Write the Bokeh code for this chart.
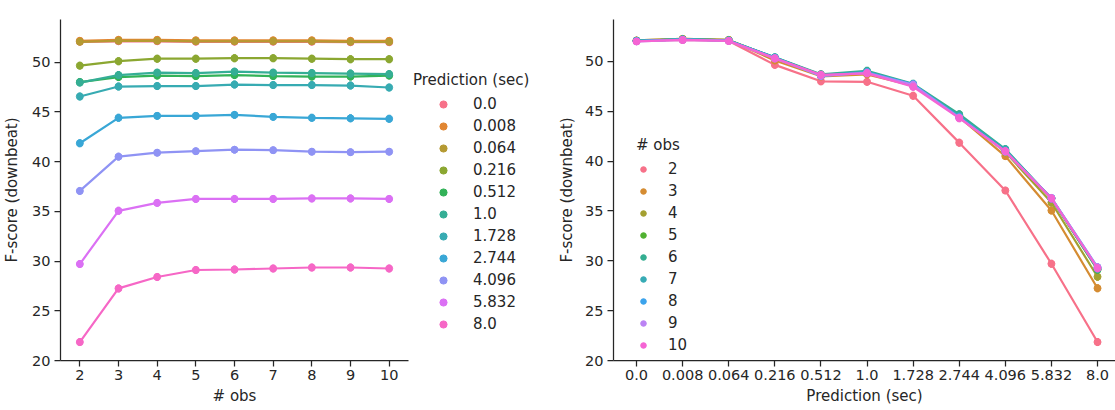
import math
from bokeh.plotting import figure
from bokeh.layouts import row
from bokeh.models import ColumnDataSource, FixedTicker, Legend, LegendItem
from bokeh.embed import file_html
from bokeh.resources import INLINE

# ---------------- data ----------------
pred_labels = ["0.0", "0.008", "0.064", "0.216", "0.512", "1.0",
               "1.728", "2.744", "4.096", "5.832", "8.0"]
obs_labels = ["2", "3", "4", "5", "6", "7", "8", "9", "10"]

# F-score (downbeat), one list per prediction horizon, over # obs 2..10
f_0_0   = [52.05, 52.10, 52.10, 52.05, 52.05, 52.05, 52.05, 52.00, 52.00]
f_0_008 = [52.15, 52.25, 52.25, 52.20, 52.20, 52.20, 52.20, 52.15, 52.15]
f_0_064 = [52.05, 52.15, 52.15, 52.10, 52.10, 52.10, 52.10, 52.05, 52.05]
f_0_216 = [49.65, 50.10, 50.35, 50.35, 50.40, 50.40, 50.35, 50.30, 50.30]
f_0_512 = [48.00, 48.50, 48.65, 48.60, 48.70, 48.60, 48.55, 48.55, 48.65]
f_1_0   = [47.95, 48.70, 48.95, 48.90, 49.05, 48.95, 48.90, 48.85, 48.80]
f_1_728 = [46.55, 47.55, 47.60, 47.60, 47.75, 47.70, 47.70, 47.65, 47.45]
f_2_744 = [41.85, 44.40, 44.60, 44.60, 44.70, 44.50, 44.40, 44.35, 44.30]
f_4_096 = [37.05, 40.50, 40.90, 41.05, 41.20, 41.15, 41.00, 40.95, 41.00]
f_5_832 = [29.70, 35.05, 35.85, 36.25, 36.25, 36.25, 36.30, 36.30, 36.25]
f_8_0   = [21.85, 27.25, 28.40, 29.10, 29.15, 29.25, 29.35, 29.35, 29.25]

fscore = [f_0_0, f_0_008, f_0_064, f_0_216, f_0_512, f_1_0,
          f_1_728, f_2_744, f_4_096, f_5_832, f_8_0]

# half-width of the confidence interval, per prediction horizon
ci_half = [0.35, 0.35, 0.35, 0.40, 0.40, 0.40, 0.40, 0.40, 0.38, 0.40, 0.40]

y_ticks = [20, 25, 30, 35, 40, 45, 50]

# ---------------- colours (seaborn husl palette) ----------------
_M = [[3.2406, -1.5372, -0.4986],
      [-0.9689, 1.8758, 0.0415],
      [0.0557, -0.2040, 1.0570]]


def _max_chroma(L, H):
    hrad = math.radians(H)
    sinH, cosH = math.sin(hrad), math.cos(hrad)
    sub1 = (L + 16) ** 3 / 1560896.0
    sub2 = sub1 if sub1 > 0.008856 else L / 903.3
    result = float("inf")
    for m1, m2, m3 in _M:
        top = (0.99915 * m1 + 1.05122 * m2 + 1.14460 * m3) * sub2
        rbottom = 0.86330 * m3 - 0.17266 * m2
        lbottom = 0.12949 * m3 - 0.38848 * m1
        bottom = (rbottom * sinH + lbottom * cosH) * sub2
        for t in (0.0, 1.0):
            C = L * (top - 1.05122 * t) / (bottom + 0.17266 * sinH * t)
            if 0.0 < C < result:
                result = C
    return result


def _husl_to_hex(H, S, L):
    C = _max_chroma(L, H) / 100.0 * S
    hr = math.radians(H)
    U, V = math.cos(hr) * C, math.sin(hr) * C
    t = (L + 16.0) / 116.0
    varY = t ** 3 if t ** 3 > 0.008856 else (116.0 * t - 16.0) / 903.3
    varU = U / (13.0 * L) + 0.19784
    varV = V / (13.0 * L) + 0.46834
    Y = varY
    X = -(9.0 * Y * varU) / ((varU - 4.0) * varV - varU * varV)
    Z = (9.0 * Y - 15.0 * varV * Y - varV * X) / (3.0 * varV)
    out = []
    for r in _M:
        c = r[0] * X + r[1] * Y + r[2] * Z
        c = 12.92 * c if c <= 0.0031308 else 1.055 * c ** (1 / 2.4) - 0.055
        c = min(max(c, 0.0), 1.0)
        out.append(int(round(c * 255)))
    return "#%02x%02x%02x" % tuple(out)


def husl_palette(n, h=0.01, s=0.9, l=0.65):
    cols = []
    for i in range(n):
        hue = ((i / n) + h) % 1 * 359
        cols.append(_husl_to_hex(hue, s * 99, l * 99))
    return cols


pal_pred = husl_palette(len(pred_labels))
pal_obs = husl_palette(len(obs_labels))

FONT = "DejaVu Sans"
TXT = "#262626"


def style(p, xstand, ystand):
    p.outline_line_color = None
    p.xgrid.visible = False
    p.ygrid.visible = False
    for ax in (p.xaxis[0], p.yaxis[0]):
        ax.axis_line_color = TXT
        ax.axis_line_width = 1.25
        ax.major_tick_line_color = TXT
        ax.major_tick_line_width = 1.25
        ax.major_tick_out = 6
        ax.major_tick_in = 0
        ax.minor_tick_line_color = None
        ax.major_label_text_font = FONT
        ax.major_label_text_font_size = "14.5px"
        ax.major_label_text_color = TXT
        ax.axis_label_text_font = FONT
        ax.axis_label_text_font_size = "15px"
        ax.axis_label_text_font_style = "normal"
        ax.axis_label_text_color = TXT
    p.xaxis[0].major_label_standoff = 3
    p.yaxis[0].major_label_standoff = 4
    p.xaxis[0].axis_label_standoff = xstand
    p.yaxis[0].axis_label_standoff = ystand
    p.yaxis[0].ticker = FixedTicker(ticks=y_ticks)


def make_legend(items, title, loc, gw, standoff):
    return Legend(items=items, location=loc, title=title,
                  glyph_width=gw, glyph_height=18, label_height=18,
                  label_standoff=standoff, spacing=4, padding=0, margin=0,
                  border_line_color=None, background_fill_alpha=0,
                  label_text_font=FONT, label_text_font_size="15px",
                  label_text_color=TXT, title_text_font=FONT,
                  title_text_font_size="15px", title_text_font_style="normal",
                  title_text_color=TXT, title_standoff=6)


# ---------------- left: x = # obs, hue = prediction ----------------
p1 = figure(width=410, height=410, x_range=(-0.5, 8.5), y_range=(20, 54.29),
            min_border_left=60, min_border_right=2, min_border_top=2,
            min_border_bottom=50, output_backend="svg", toolbar_location=None)
style(p1, 4, 8)
p1.xaxis[0].ticker = FixedTicker(ticks=list(range(len(obs_labels))))
p1.xaxis[0].major_label_overrides = {i: s for i, s in enumerate(obs_labels)}
p1.xaxis[0].axis_label = "# obs"
p1.yaxis[0].axis_label = "F-score (downbeat)"

for i, lab in enumerate(pred_labels):
    c = pal_pred[i]
    ys = fscore[i]
    src = ColumnDataSource(dict(
        x=list(range(len(obs_labels))), y=ys,
        lo=[v - ci_half[i] for v in ys], hi=[v + ci_half[i] for v in ys]))
    p1.line("x", "y", source=src, line_color=c, line_width=2.2)
    p1.segment(x0="x", y0="lo", x1="x", y1="hi", source=src, line_color=c, line_width=3)
    p1.scatter("x", "y", source=src, size=7, fill_color=c, line_color=c)

# ---------------- legend panel for the left chart ----------------
pleg = figure(width=145, height=410, x_range=(0, 1), y_range=(0, 1),
              x_axis_type=None, y_axis_type=None, min_border_left=0,
              min_border_right=0, min_border_top=0, min_border_bottom=0,
              output_backend="svg", toolbar_location=None)
pleg.outline_line_color = None
pleg.xgrid.visible = False
pleg.ygrid.visible = False
items1 = []
for i, lab in enumerate(pred_labels):
    r = pleg.scatter(x=[-10], y=[-10], size=7, fill_color=pal_pred[i],
                     line_color=pal_pred[i])
    items1.append(LegendItem(label=lab, renderers=[r]))
pleg.add_layout(make_legend(items1, "Prediction (sec)", (3, 27), 60, 0))

# ---------------- right: x = prediction, hue = # obs ----------------
p2 = figure(width=560, height=410, x_range=(-0.5, 10.39), y_range=(20, 54.2),
            min_border_left=57, min_border_right=0, min_border_top=19,
            min_border_bottom=48, output_backend="svg", toolbar_location=None)
style(p2, 4, 6)
p2.xaxis[0].ticker = FixedTicker(ticks=list(range(len(pred_labels))))
p2.xaxis[0].major_label_overrides = {i: s for i, s in enumerate(pred_labels)}
p2.xaxis[0].axis_label = "Prediction (sec)"
p2.yaxis[0].axis_label = "F-score (downbeat)"

items2 = []
for j, lab in enumerate(obs_labels):
    c = pal_obs[j]
    ys = [fscore[i][j] for i in range(len(pred_labels))]
    src = ColumnDataSource(dict(
        x=list(range(len(pred_labels))), y=ys,
        lo=[v - ci_half[i] for i, v in enumerate(ys)],
        hi=[v + ci_half[i] for i, v in enumerate(ys)]))
    p2.line("x", "y", source=src, line_color=c, line_width=2.2)
    p2.segment(x0="x", y0="lo", x1="x", y1="hi", source=src, line_color=c, line_width=3)
    r = p2.scatter("x", "y", source=src, size=7, fill_color=c, line_color=c)
    items2.append(LegendItem(label=lab, renderers=[r]))

p2.add_layout(make_legend(items2, "# obs", (23, 6), 14, 18))

layout = row(p1, pleg, p2, spacing=0)
open("out.html", "w").write(file_html(layout, INLINE))
